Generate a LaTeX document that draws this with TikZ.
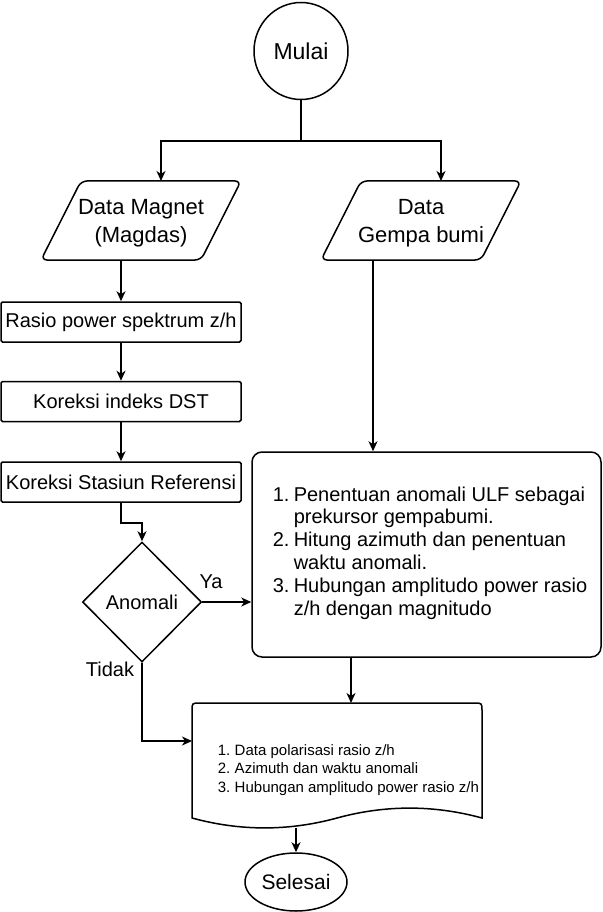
\documentclass[tikz,border=0pt]{standalone}
\usepackage{fontspec}
\setmainfont{Liberation Sans}
\usetikzlibrary{arrows.meta,shapes.geometric}
\begin{document}
\begin{tikzpicture}[x=1pt,y=-1pt,line width=1.5pt,
  arr/.style={-{Stealth[length=10pt,width=9pt,inset=3pt]}},
  boxstyle/.style={draw,rounded corners=1.5pt,minimum width=240pt,minimum height=40pt,inner sep=0pt,font=\fontsize{20}{24}\selectfont},
  ptext/.style={align=center,inner sep=0pt,font=\fontsize{22}{28}\selectfont},
  lbl/.style={inner sep=0pt,font=\fontsize{20}{24}\selectfont}]
\useasboundingbox (0,0) rectangle (602,912);

% start
\node[draw,ellipse,minimum width=94pt,minimum height=97pt,inner sep=0pt,font=\fontsize{23}{26}\selectfont] (mulai) at (301,51) {Mulai};
\coordinate (split) at (301,141);

% parallelograms
\draw[rounded corners=6pt] (81,181) -- (241,181) -- (201,260) -- (41,260) -- cycle;
\node[ptext] (dm) at (141,223) {Data Magnet\\(Magdas)};
\coordinate (dmin) at (161,181);
\coordinate (dmout) at (121,260);

\draw[rounded corners=6pt] (361,181) -- (521,181) -- (481,260) -- (321,260) -- cycle;
\node[ptext] (dg) at (421,223) {Data\\Gempa bumi};
\coordinate (dgin) at (441,181);
\coordinate (dgout) at (373,260);

% process boxes
\node[boxstyle] (b1) at (121,322) {Rasio power spektrum z/h};
\node[boxstyle] (b2) at (121,401.5) {Koreksi indeks DST};
\node[boxstyle] (b3) at (121,482) {Koreksi Stasiun Referensi};

% decision
\node[draw,diamond,minimum width=119pt,minimum height=120pt,inner sep=0pt,font=\fontsize{20}{24}\selectfont] (dia) at (142,602) {Anomali};
\node[lbl] (ya) at (211,582) {Ya};
\node[lbl] (tidak) at (110,669) {Tidak};

% big process box
\node[draw,rounded corners=10pt,minimum width=349pt,minimum height=205pt,inner sep=0pt] (proc) at (426.5,554.5) {};
\node[anchor=west,inner sep=0pt,align=left,font=\fontsize{20}{22.8}\selectfont] (proctext) at (272,553)
{\makebox[21pt][l]{1.}Penentuan anomali ULF sebagai\\
 \makebox[21pt]{}prekursor gempabumi.\\
 \makebox[21pt][l]{2.}Hitung azimuth dan penentuan\\
 \makebox[21pt]{}waktu anomali.\\
 \makebox[21pt][l]{3.}Hubungan amplitudo power rasio\\
 \makebox[21pt]{}z/h dengan magnitudo};

% document
\draw (192,818) -- (192,711) .. controls (192,703) .. (200,703) -- (474,703)
  .. controls (482,703) .. (482,711) -- (482,818)
  .. controls (433.67,804.8) and (385.33,804.8) .. (337,818)
  .. controls (288.67,831.2) and (240.33,831.2) .. (192,818) -- cycle;
\node[anchor=west,inner sep=0pt,align=left,font=\fontsize{15}{18.5}\selectfont] (doctext) at (217,770)
{\makebox[17pt][l]{1.}Data polarisasi rasio z/h\\
 \makebox[17pt][l]{2.}Azimuth dan waktu anomali\\
 \makebox[17pt][l]{3.}Hubungan amplitudo power rasio z/h};
\coordinate (docin) at (351,703);
\coordinate (docleft) at (192,741);
\coordinate (docout) at (296,828);

% end
\node[draw,ellipse,minimum width=102pt,minimum height=58pt,inner sep=0pt,font=\fontsize{21}{24}\selectfont] (selesai) at (296,882) {Selesai};

% connectors
\draw (mulai.south) -- (split);
\draw[arr] (split) -| (dmin);
\draw[arr] (split) -| (dgin);
\draw[arr] (dmout) -- (b1.north);
\draw[arr] (b1) -- (b2);
\draw[arr] (b2) -- (b3);
\draw[arr] (b3.south) -- ++(0,20) -| (dia.north);
\draw[arr] (dgout) -- (dgout |- proc.north);
\draw[arr] (dia.east) -- (dia.east -| proc.west);
\draw[arr] (dia.south) |- (docleft);
\draw[arr] (proc.south -| docin) -- (docin);
\draw[arr] (docout) -- (selesai.north);
\end{tikzpicture}
\end{document}
